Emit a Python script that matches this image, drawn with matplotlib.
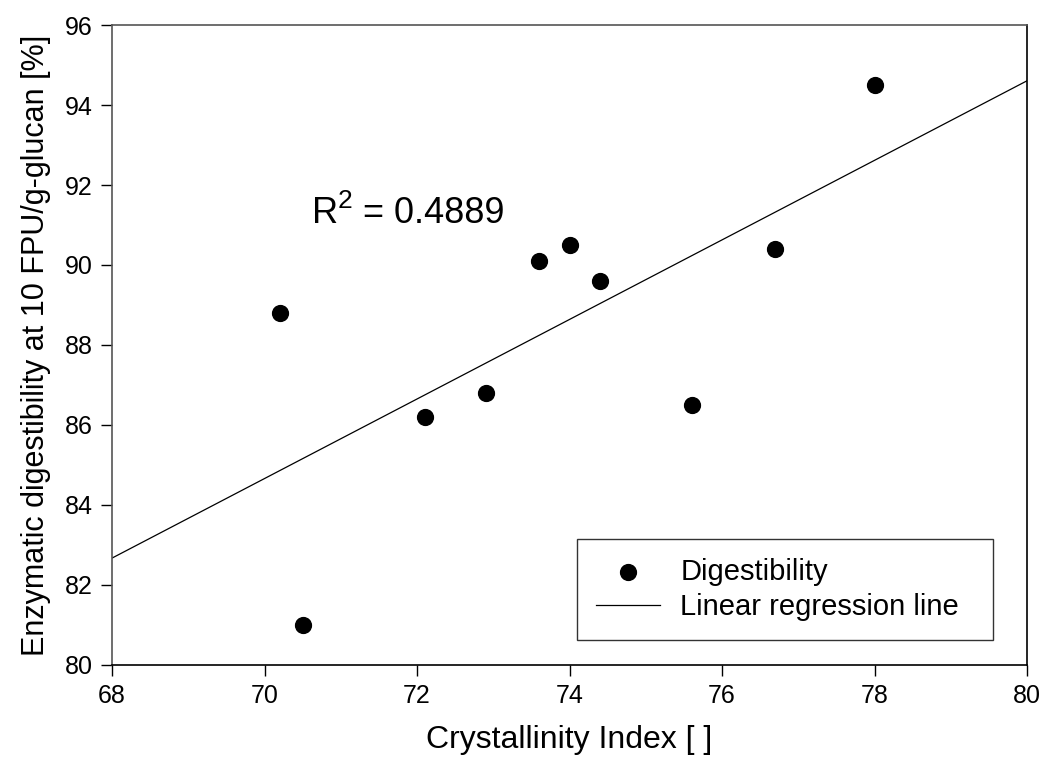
import numpy as np
import matplotlib.pyplot as plt

plt.rcParams['font.family'] = ['Liberation Sans', 'DejaVu Sans']

# crystallinity index vs digestibility
ci = [70.2, 70.5, 72.1, 72.9, 73.6, 74.0, 74.4, 75.6, 76.7, 78.0]
dig = [88.8, 81.0, 86.2, 86.8, 90.1, 90.5, 89.6, 86.5, 90.4, 94.5]
x_ticks = [68, 70, 72, 74, 76, 78, 80]
y_ticks = [80, 82, 84, 86, 88, 90, 92, 94, 96]

slope, icpt = np.polyfit(ci, dig, 1)
r2 = np.corrcoef(ci, dig)[0, 1] ** 2

fig = plt.figure(figsize=(10.45, 7.67), dpi=100)
ax = fig.add_axes([0.1072, 0.133, 0.8756, 0.8344])

ax.scatter(ci, dig, s=130, color='black', zorder=3, label='Digestibility')
xl = np.array([68, 80])
ax.plot(xl, slope * xl + icpt, color='black', lw=0.9, label='Linear regression line')

ax.set_xlim(68, 80)
ax.set_ylim(80, 96)
ax.set_xticks(x_ticks)
ax.set_yticks(y_ticks)
ax.tick_params(direction='out', length=8, width=1, labelsize=18, pad=6)
for s in ['left', 'top']:
    ax.spines[s].set_color('#555555')
for s in ax.spines.values():
    s.set_linewidth(1.2)

ax.set_xlabel('Crystallinity Index [ ]', fontsize=23, labelpad=12)
ax.set_ylabel('Enzymatic digestibility at 10 FPU/g-glucan [%]', fontsize=22, labelpad=10)

# R^2 label with a raised superscript
ax.text(70.62, 91.05, 'R', fontsize=26)
ax.annotate('2', xy=(70.62, 91.05), xytext=(18.5, 11), textcoords='offset points', fontsize=19)
ax.annotate(' = %.4f' % r2, xy=(70.62, 91.05), xytext=(29.5, 0), textcoords='offset points', fontsize=26)

leg = ax.legend(loc='lower left', bbox_to_anchor=(0.508, 0.039, 0.455, 0.159),
                mode='expand', fontsize=21, frameon=True, fancybox=False,
                edgecolor='black', handlelength=2.2, borderpad=0.65,
                labelspacing=0.25, handletextpad=0.7, borderaxespad=0)
leg.get_frame().set_linewidth(1)

fig.savefig('out.png', dpi=100)
